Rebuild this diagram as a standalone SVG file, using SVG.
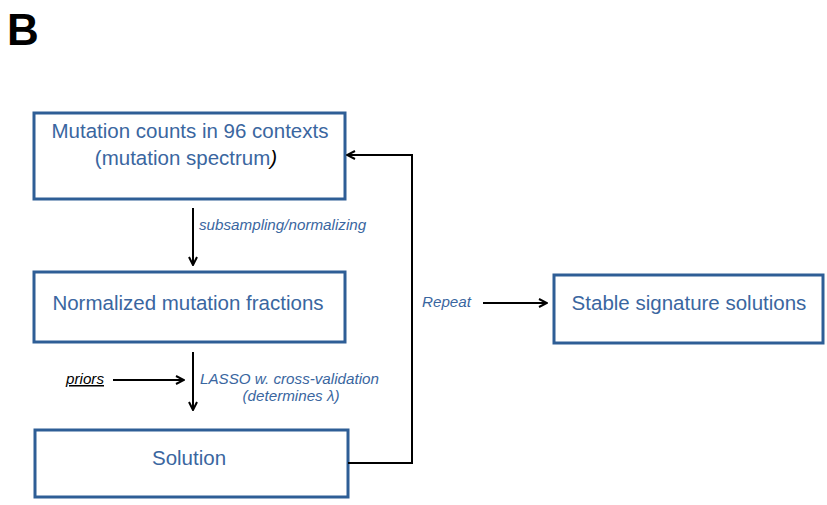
<svg xmlns="http://www.w3.org/2000/svg" width="827" height="505" viewBox="0 0 827 505">
<defs>
<marker id="ah" viewBox="0 0 10 10" refX="9" refY="5" markerWidth="10" markerHeight="10" orient="auto" markerUnits="userSpaceOnUse">
<path d="M1,1 L9,5 L1,9" fill="none" stroke="#000" stroke-width="2"/>
</marker>
<style>
.box{fill:#fff;stroke:#2e5e96;stroke-width:3}
.t{font-family:"Liberation Sans",Arial,sans-serif;font-size:20.5px;fill:#3a66a0;text-anchor:middle}
.lab{font-family:"Liberation Sans",Arial,sans-serif;font-size:15.2px;font-style:italic;fill:#3a66a0}
.c{fill:none;stroke:#000;stroke-width:2}
</style>
</defs>
<rect width="827" height="505" fill="#fff"/>
<text x="7" y="45" font-family="Liberation Sans,Arial,sans-serif" font-size="44" font-weight="bold" fill="#000">B</text>
<g id="n1">
<rect class="box" x="34" y="113" width="311" height="86"/>
<text class="t" x="190" y="138">Mutation counts in 96 contexts</text>
<text class="t" x="186" y="165">(mutation spectrum<tspan fill="#000" font-style="italic">)</tspan></text>
</g>
<g id="n2">
<rect class="box" x="34" y="272" width="311" height="70"/>
<text class="t" x="188" y="310">Normalized mutation fractions</text>
</g>
<g id="n3">
<rect class="box" x="35" y="430" width="313" height="67"/>
<text class="t" x="189" y="465">Solution</text>
</g>
<g id="n4">
<rect class="box" x="554" y="275" width="269" height="68"/>
<text class="t" x="689" y="310">Stable signature solutions</text>
</g>
<g id="connectors">
<line class="c" x1="193" y1="208" x2="193" y2="265" marker-end="url(#ah)"/>
<line class="c" x1="193" y1="352" x2="193" y2="410" marker-end="url(#ah)"/>
<line class="c" x1="113" y1="380" x2="184" y2="380" marker-end="url(#ah)"/>
<line class="c" x1="483" y1="303" x2="547" y2="303" marker-end="url(#ah)"/>
<polyline class="c" points="348,463 412,463 412,155 347,155" marker-end="url(#ah)"/>
<text class="lab" x="199" y="230">subsampling/normalizing</text>
<text class="lab" x="200" y="384">LASSO w. cross-validation</text>
<text class="lab" x="291" y="401" text-anchor="middle">(determines λ)</text>
<text class="lab" x="66" y="384" style="fill:#000" text-decoration="underline">priors</text>
<text class="lab" x="422" y="307">Repeat</text>
</g>
</svg>
